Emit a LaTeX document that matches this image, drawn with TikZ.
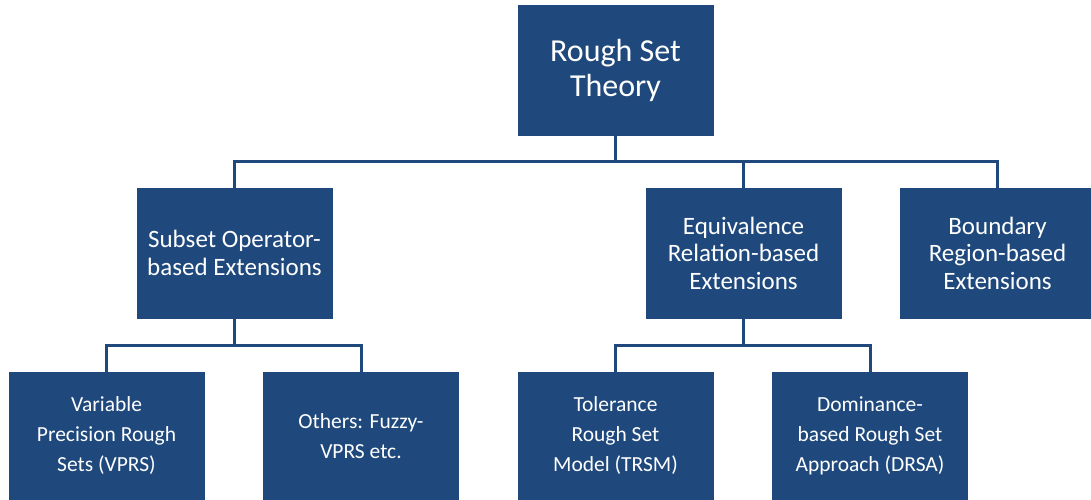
\documentclass[tikz,border=0pt]{standalone}
\usepackage{fontspec}
\setmainfont{Carlito}
\definecolor{boxblue}{HTML}{1F497D}
\begin{document}
\begin{tikzpicture}[x=1pt,y=1pt,
  box/.style={draw=boxblue,fill=boxblue,text=white,align=center,inner sep=0pt,
    minimum width=195pt},
  toptext/.style={font=\fontsize{32}{35}\selectfont},
  midtext/.style={font=\fontsize{25}{27.5}\selectfont},
  lowtext/.style={font=\fontsize{21.5}{30}\selectfont},
  link/.style={draw=boxblue,line width=3pt}]
\useasboundingbox (0,0) rectangle (1091,500);
% root
\node[box,toptext,minimum height=130pt] (root) at (615.5,430) {Rough Set\\Theory};
% second level
\node[box,midtext,minimum height=130pt] (sub) at (234.5,247) {Subset Operator-\\based Extensions};
\node[box,midtext,minimum height=130pt] (eqv) at (743.5,247) {Equivalence\\Relation-based\\Extensions};
\node[box,midtext,minimum height=130pt] (bnd) at (997.5,247) {Boundary\\Region-based\\Extensions};
% third level
\node[box,lowtext,minimum height=128pt] (var) at (106.5,64) {Variable\\Precision Rough\\Sets (VPRS)};
\node[box,lowtext,minimum height=128pt] (oth) at (361,64) {Others: Fuzzy-\\VPRS etc.};
\node[box,lowtext,minimum height=128pt] (tol) at (615.5,64) {Tolerance\\Rough Set\\Model (TRSM)};
\node[box,lowtext,minimum height=128pt] (dom) at (870,64) {Dominance-\\based Rough Set\\Approach (DRSA)};
% bus lines
\coordinate (b1) at (0,338);
\coordinate (b2) at (0,154);
\draw[link] (root.south) -- (root.south |- b1);
\draw[link] (sub.north) |- (bnd.north |- b1) -- (bnd.north);
\draw[link] (eqv.north) -- (eqv.north |- b1);
\draw[link] (sub.south) -- (sub.south |- b2);
\draw[link] (var.north) |- (oth.north |- b2) -- (oth.north);
\draw[link] (eqv.south) -- (eqv.south |- b2);
\draw[link] (tol.north) |- (dom.north |- b2) -- (dom.north);
\end{tikzpicture}
\end{document}
